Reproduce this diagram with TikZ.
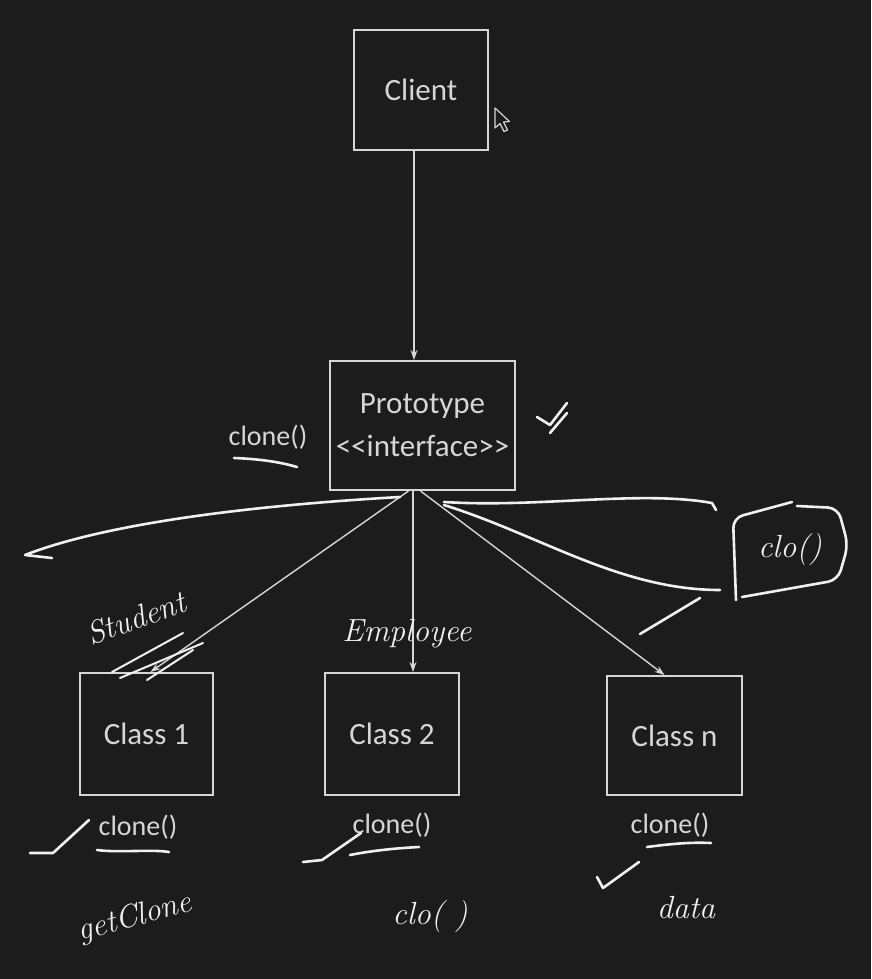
\documentclass[tikz,border=0pt]{standalone}
\usepackage{fontspec}
\newfontfamily\calfont{Carlito}
\usetikzlibrary{arrows.meta,calc}
\definecolor{bg}{HTML}{1C1C1C}
\definecolor{ink}{HTML}{D6D6D6}
\definecolor{chalk}{HTML}{F0F0F0}
\begin{document}
\begin{tikzpicture}[x=1pt,y=-1pt,
  box/.style={draw=ink,line width=2pt,text=ink,inner sep=0pt,align=center,
    font=\calfont\fontsize{31}{43}\selectfont},
  arr/.style={draw=ink,line width=1.4pt,-{Stealth[length=10pt,width=7pt]}},
  hand/.style={draw=chalk,line width=2.6pt,line cap=round,line join=round},
  htext/.style={text=chalk,inner sep=0pt,font=\itshape\fontsize{32}{34}\selectfont},
  lbl/.style={text=ink,inner sep=0pt,font=\calfont\fontsize{28}{30}\selectfont}]
\fill[bg] (0,0) rectangle (871,979);
\useasboundingbox (0,0) rectangle (871,979);

% boxes
\node[box,minimum width=134pt,minimum height=120pt] (client) at (421,90) {Client};
\node[box,minimum width=185pt,minimum height=129pt] (proto) at (422.5,425.5) {Prototype\\<{}<interface>{}>};
\node[box,minimum width=133pt,minimum height=122pt] (c1) at (146.5,734) {Class 1};
\node[box,minimum width=134pt,minimum height=122pt] (c2) at (392,734) {Class 2};
\node[box,minimum width=135pt,minimum height=119pt] (cn) at (674.5,735.5) {Class n};

% connectors
\draw[arr] ([xshift=-7pt]client.south) -- ([xshift=-8.5pt]proto.north);
\draw[arr] ([xshift=-9.5pt]proto.south) -- ([xshift=21pt]c2.north);
\draw[arr] ([xshift=-14pt]proto.south) -- ([xshift=4pt]c1.north);
\draw[arr] ([xshift=-2pt]proto.south) -- ([xshift=-10pt]cn.north);

% printed labels
\node[lbl] (pclone) at (268,437) {clone()};
\node[lbl] (c1clone) at (138,827) {clone()};
\node[lbl] (c2clone) at (392,825) {clone()};
\node[lbl] (cnclone) at (670,825) {clone()};

% mouse cursor
\draw[ink,line width=1.2pt,line join=round,fill=bg]
  (495,108) -- (495,128) -- (500,123.5) -- (504,131.5) -- (507.5,130) -- (503.5,122) -- (509.5,121.5) -- cycle;

% handwriting: strokes around Prototype
\draw[hand] (234,458) .. controls (260,459) and (280,462) .. (297,467);
\draw[hand] (537,417) -- (550,425) -- (567,403);
\draw[hand] (550,433) -- (567,413);
\draw[hand] (400,497) .. controls (260,505) and (110,522) .. (25,555) -- (52,558);
\draw[hand] (444,502) .. controls (540,508) and (640,490) .. (712,503) -- (716,510);
\draw[hand] (444,505) .. controls (540,535) and (620,590) .. (720,590);
\draw[hand] (640,634) -- (700,598);
\draw[hand,rounded corners=10pt] (736,600) -- (733,518) -- (792,502);
\draw[hand,rounded corners=10pt] (797,506) -- (838,508) -- (848,545) -- (838,580) -- (742,597);
\node[htext] (hclo) at (790,550) {clo()};

% Student / Employee
\node[htext,rotate=20] (hstud) at (136,618) {Student};
\draw[hand,line width=2pt] (112,672) -- (183,633);
\draw[hand,line width=2pt] (120,678) -- (203,643);
\draw[hand,line width=2pt] (147,680) -- (193,650);
\node[htext] (hemp) at (407,634) {Employee};

% bottom annotations
\draw[hand] (30,853) -- (53,853) -- (89,820);
\draw[hand] (97,850) .. controls (120,853) and (150,849) .. (169,852);
\node[htext,rotate=15] (hget) at (135,918) {getClone};

\draw[hand] (303,862) -- (322,860) -- (361,833);
\draw[hand] (350,855) .. controls (375,850) and (400,848) .. (419,847);
\node[htext] (hclo2) at (430,917) {clo( )};

\draw[hand] (647,847) .. controls (670,844) and (690,842) .. (711,843);
\draw[hand] (597,877) -- (603,888) -- (639,862);
\node[htext] (hdata) at (686,908) {data};
\end{tikzpicture}
\end{document}
